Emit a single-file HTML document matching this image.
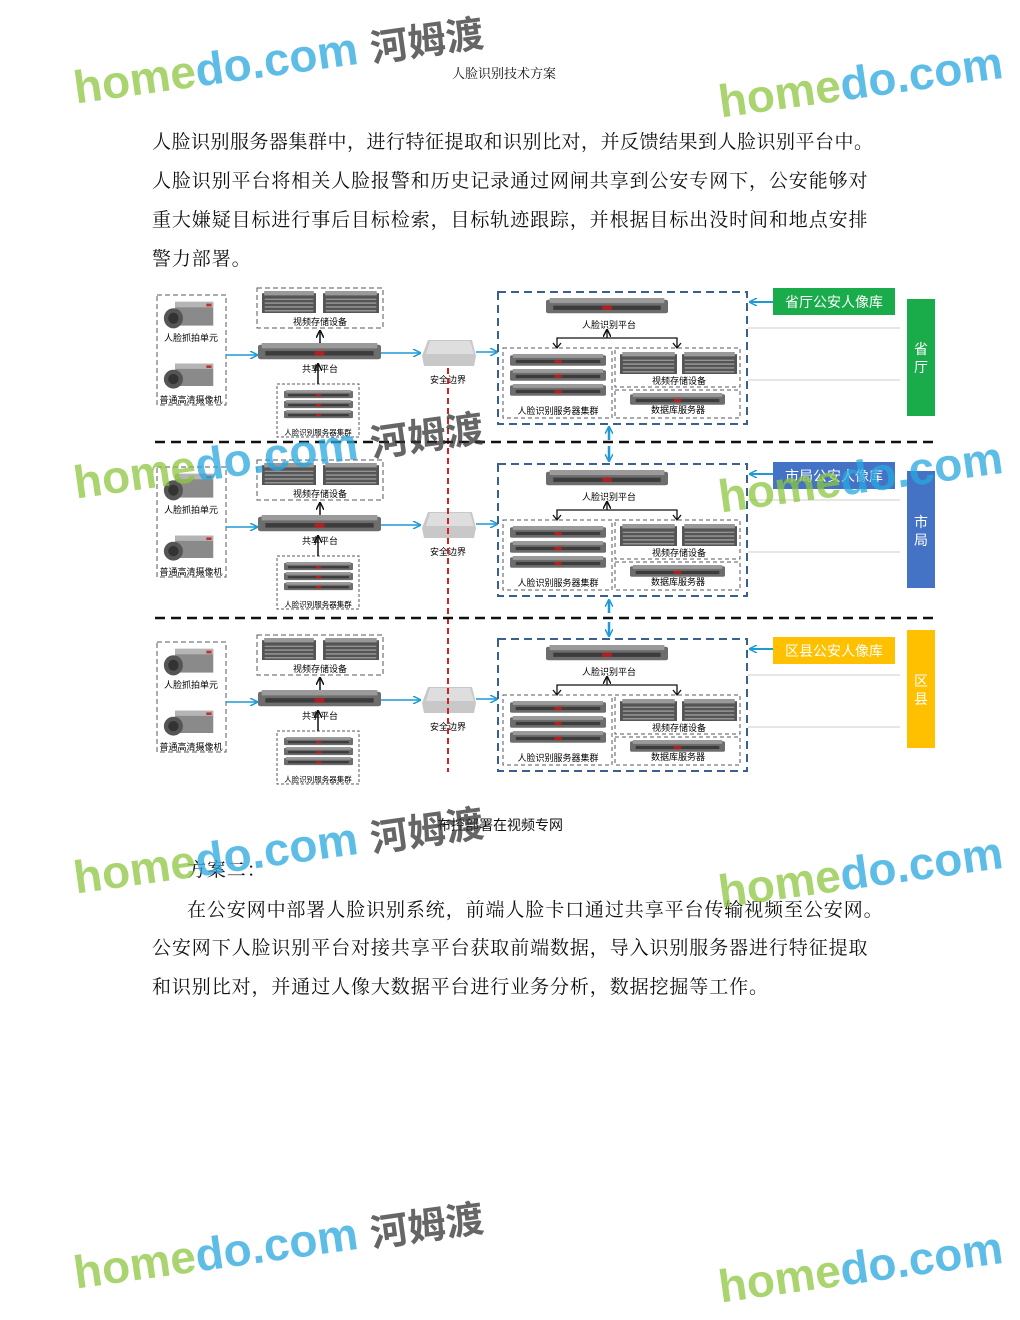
<!DOCTYPE html>
<html><head><meta charset="utf-8"><style>
body{margin:0;background:#fff;width:1020px;height:1320px;position:relative;overflow:hidden;font-family:"Liberation Serif","Noto Serif CJK SC",serif;color:#111}
.t{position:absolute;white-space:nowrap}
.p{font-size:19px;left:152px;letter-spacing:0.9px}
.wm{position:absolute;font-family:"Liberation Sans","Noto Sans CJK SC",sans-serif;font-weight:bold;white-space:nowrap;transform:rotate(-8deg);transform-origin:left top;opacity:.75}
svg text{font-family:"Liberation Sans","Noto Sans CJK SC",sans-serif}
</style></head><body>
<div class="t" style="left:452px;top:63px;font-size:13px">人脸识别技术方案</div>
<div class="t p" style="top:127px;letter-spacing:0.5px">人脸识别服务器集群中，进行特征提取和识别比对，并反馈结果到人脸识别平台中。</div>
<div class="t p" style="top:166px">人脸识别平台将相关人脸报警和历史记录通过网闸共享到公安专网下，公安能够对</div>
<div class="t p" style="top:205px">重大嫌疑目标进行事后目标检索，目标轨迹跟踪，并根据目标出没时间和地点安排</div>
<div class="t p" style="top:244px">警力部署。</div>

<svg style="position:absolute;left:0;top:0" width="1020" height="1320">
<defs>
<symbol id="srv" viewBox="0 0 100 20" preserveAspectRatio="none">
<rect x="0" y="2" width="100" height="16" rx="2" fill="#6d6d6d"/>
<rect x="3" y="0" width="94" height="6" fill="#9a9a9a"/>
<rect x="6" y="9" width="88" height="5" fill="#3c3c3c"/>
<rect x="46" y="9" width="8" height="5" fill="#b02020"/>
</symbol>
<symbol id="sto" viewBox="0 0 100 40" preserveAspectRatio="none">
<rect x="0" y="4" width="100" height="36" fill="#555"/>
<rect x="4" y="0" width="92" height="8" fill="#999"/>
<g stroke="#aaa" stroke-width="2"><line x1="5" y1="15" x2="95" y2="15"/><line x1="5" y1="22" x2="95" y2="22"/><line x1="5" y1="29" x2="95" y2="29"/><line x1="5" y1="36" x2="95" y2="36"/></g>
</symbol>
<symbol id="cam" viewBox="0 0 60 35" preserveAspectRatio="none">
<rect x="14" y="2" width="44" height="26" fill="#8a8a8a"/><rect x="14" y="2" width="44" height="6" fill="#b5b5b5"/>
<circle cx="12" cy="20" r="11" fill="#555"/><circle cx="12" cy="20" r="6" fill="#333"/>
<rect x="50" y="4" width="6" height="3" fill="#c03030"/>
</symbol>
<marker id="ab" markerWidth="8" markerHeight="8" refX="7" refY="4" orient="auto" markerUnits="userSpaceOnUse"><path d="M0,0 L8,4 L0,8" fill="none" stroke="#1f9ad6" stroke-width="1.5"/></marker>
<marker id="ak" markerWidth="8" markerHeight="8" refX="7" refY="4" orient="auto" markerUnits="userSpaceOnUse"><path d="M0,0 L8,4 L0,8" fill="none" stroke="#111" stroke-width="1.5"/></marker>
<g id="sec">
 <rect x="157" y="295" width="69" height="110" fill="none" stroke="#556" stroke-dasharray="5,3"/>
 <use href="#cam" x="163" y="300" width="52" height="32"/>
 <use href="#cam" x="163" y="362" width="52" height="30"/>
 <text x="191" y="341" font-size="9" text-anchor="middle">人脸抓拍单元</text>
 <text x="191" y="403" font-size="9" text-anchor="middle">普通高清摄像机</text>
 <rect x="257" y="288" width="126" height="40" fill="none" stroke="#556" stroke-dasharray="5,3"/>
 <use href="#sto" x="262" y="291" width="54" height="22"/><use href="#sto" x="323" y="291" width="56" height="22"/>
 <text x="320" y="325" font-size="9" text-anchor="middle">视频存储设备</text>
 <use href="#srv" x="258" y="343" width="123" height="18"/>
 <text x="320" y="372" font-size="9" text-anchor="middle">共享平台</text>
 <line x1="320" y1="343" x2="320" y2="331" stroke="#111" stroke-width="1.5" marker-end="url(#ak)"/>
 <rect x="277" y="384" width="82" height="53" fill="none" stroke="#556" stroke-dasharray="3,2"/>
 <use href="#srv" x="284" y="390" width="69" height="9"/><use href="#srv" x="284" y="400" width="69" height="9"/><use href="#srv" x="284" y="410" width="69" height="9"/>
 <text x="318" y="435" font-size="7.5" text-anchor="middle">人脸识别服务器集群</text>
 <line x1="318" y1="384" x2="318" y2="364" stroke="#111" stroke-width="1.5" marker-end="url(#ak)"/>
 <line x1="226" y1="355" x2="257" y2="355" stroke="#1f9ad6" stroke-width="1.5" marker-end="url(#ab)"/>
 <line x1="381" y1="353" x2="420" y2="353" stroke="#1f9ad6" stroke-width="1.5" marker-end="url(#ab)"/>
 <path d="M428,340 L472,340 L476,356 L474,366 L424,366 L422,356Z" fill="#c8c8c8"/><path d="M430,341 L470,341 L474,354 L426,354Z" fill="#dedede"/>
 <text x="448" y="383" font-size="9" text-anchor="middle">安全边界</text>
 <line x1="476" y1="352" x2="497" y2="352" stroke="#1f9ad6" stroke-width="1.5" marker-end="url(#ab)"/>
 <rect x="498" y="292" width="249" height="132" fill="none" stroke="#3a6090" stroke-width="2" stroke-dasharray="8,5"/>
 <use href="#srv" x="546" y="298" width="122" height="17"/>
 <text x="609" y="328" font-size="9" text-anchor="middle">人脸识别平台</text>
 <line x1="607" y1="338" x2="607" y2="330" stroke="#111" stroke-width="1.3" marker-end="url(#ak)"/>
 <polyline points="557,347 557,338 677,338 677,347" fill="none" stroke="#111" stroke-width="1.3"/>
 <path d="M553,343 L557,348 L561,343 M673,343 L677,348 L681,343" fill="none" stroke="#111" stroke-width="1.3"/>
 <rect x="503" y="348" width="109" height="70" fill="none" stroke="#556" stroke-dasharray="4,3"/>
 <use href="#srv" x="510" y="354" width="96" height="13"/><use href="#srv" x="510" y="369" width="96" height="13"/><use href="#srv" x="510" y="384" width="96" height="13"/>
 <text x="558" y="414" font-size="9" text-anchor="middle">人脸识别服务器集群</text>
 <rect x="615" y="348" width="125" height="39" fill="none" stroke="#556" stroke-dasharray="4,3"/>
 <use href="#sto" x="620" y="352" width="57" height="22"/><use href="#sto" x="682" y="352" width="55" height="22"/>
 <text x="679" y="384" font-size="9" text-anchor="middle">视频存储设备</text>
 <rect x="615" y="390" width="125" height="28" fill="none" stroke="#556" stroke-dasharray="4,3"/>
 <use href="#srv" x="630" y="393" width="95" height="13"/>
 <text x="678" y="413" font-size="9" text-anchor="middle">数据库服务器</text>
 <line x1="748" y1="328" x2="900" y2="328" stroke="#ccc"/><line x1="748" y1="380" x2="900" y2="380" stroke="#ccc"/>
 <line x1="773" y1="302" x2="750" y2="302" stroke="#1f9ad6" stroke-width="2" marker-end="url(#ab)"/>
</g>
</defs>
<use href="#sec"/>
<use href="#sec" y="172"/>
<use href="#sec" y="347"/>
<line x1="448" y1="368" x2="448" y2="772" stroke="#d42020" stroke-width="2" stroke-dasharray="6,4"/>
<line x1="155" y1="442" x2="935" y2="442" stroke="#111" stroke-width="2.5" stroke-dasharray="10,6"/>
<line x1="155" y1="618" x2="935" y2="618" stroke="#111" stroke-width="2.5" stroke-dasharray="10,6"/>
<g stroke="#1f9ad6" stroke-width="2.5" marker-end="url(#ab)"><line x1="609" y1="440" x2="609" y2="427"/><line x1="609" y1="446" x2="609" y2="461"/><line x1="609" y1="613" x2="609" y2="600"/><line x1="609" y1="622" x2="609" y2="636"/></g>
<rect x="773" y="288" width="122" height="27" fill="#1aab4b"/><text x="834" y="307" font-size="14" fill="#fff" text-anchor="middle">省厅公安人像库</text>
<rect x="907" y="299" width="28" height="117" fill="#1aab4b"/><text x="921" y="354" font-size="14" fill="#fff" text-anchor="middle">省</text><text x="921" y="372" font-size="14" fill="#fff" text-anchor="middle">厅</text>
<rect x="773" y="462" width="122" height="27" fill="#4472c4"/><text x="834" y="481" font-size="14" fill="#fff" text-anchor="middle">市局公安人像库</text>
<rect x="907" y="471" width="28" height="117" fill="#4472c4"/><text x="921" y="527" font-size="14" fill="#fff" text-anchor="middle">市</text><text x="921" y="545" font-size="14" fill="#fff" text-anchor="middle">局</text>
<rect x="773" y="637" width="122" height="27" fill="#ffc000"/><text x="834" y="656" font-size="14" fill="#fff" text-anchor="middle">区县公安人像库</text>
<rect x="907" y="630" width="28" height="118" fill="#ffc000"/><text x="921" y="686" font-size="14" fill="#fff" text-anchor="middle">区</text><text x="921" y="704" font-size="14" fill="#fff" text-anchor="middle">县</text>
</svg>

<div class="t" style="left:437px;top:815px;font-size:14px;font-family:'Liberation Sans','Noto Sans CJK SC',sans-serif">布控部署在视频专网</div>
<div class="t p" style="left:187px;top:855px">方案二：</div>
<div class="t p" style="left:187px;top:895px">在公安网中部署人脸识别系统，前端人脸卡口通过共享平台传输视频至公安网。</div>
<div class="t p" style="top:933px">公安网下人脸识别平台对接共享平台获取前端数据，导入识别服务器进行特征提取</div>
<div class="t p" style="top:972px">和识别比对，并通过人像大数据平台进行业务分析，数据挖掘等工作。</div>

<div class="wm" style="left:70px;top:60px;font-size:46px;color:#8dc63f">home<span style="color:#29a8e0">do.com</span> <span style="color:#333;font-size:38px">河姆渡</span></div>
<div class="wm" style="left:715px;top:75px;font-size:46px;color:#8dc63f">home<span style="color:#29a8e0">do.com</span></div>
<div class="wm" style="left:70px;top:455px;font-size:46px;color:#8dc63f">home<span style="color:#29a8e0">do.com</span> <span style="color:#333;font-size:38px">河姆渡</span></div>
<div class="wm" style="left:715px;top:470px;font-size:46px;color:#8dc63f">home<span style="color:#29a8e0">do.com</span></div>
<div class="wm" style="left:70px;top:850px;font-size:46px;color:#8dc63f">home<span style="color:#29a8e0">do.com</span> <span style="color:#333;font-size:38px">河姆渡</span></div>
<div class="wm" style="left:715px;top:865px;font-size:46px;color:#8dc63f">home<span style="color:#29a8e0">do.com</span></div>
<div class="wm" style="left:70px;top:1245px;font-size:46px;color:#8dc63f">home<span style="color:#29a8e0">do.com</span> <span style="color:#333;font-size:38px">河姆渡</span></div>
<div class="wm" style="left:715px;top:1260px;font-size:46px;color:#8dc63f">home<span style="color:#29a8e0">do.com</span></div>
</body></html>
